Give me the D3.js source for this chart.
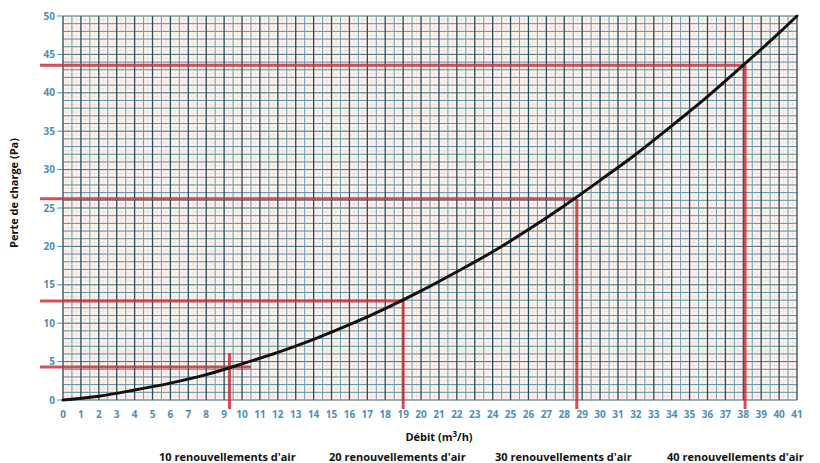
<!DOCTYPE html>
<html>
<head>
<meta charset="utf-8">
<script src="https://cdn.jsdelivr.net/npm/d3@7"></script>
<style>
  body { margin: 0; background: #fff; }
  svg { display: block; font-family: "Open Sans", sans-serif; }
  .tick-label { fill: #4a90b6; font-size: 10px; font-weight: 700; }
  .title { fill: #111; font-size: 11px; font-weight: 700; }
</style>
</head>
<body>
<svg width="820" height="463"></svg>
<script>
// Débit (m3/h) and perte de charge (Pa)
var debit = [0, 2, 4, 6, 8, 10, 12, 14, 16, 18, 20, 22, 24, 26, 28, 30, 32, 34, 36, 38, 40, 41];
var perte = [0, 0.5, 1.3, 2.2, 3.3, 4.7, 6.2, 7.9, 9.8, 11.9, 14.2, 16.7, 19.3, 22.2, 25.3, 28.6, 32.0, 35.7, 39.5, 43.6, 47.8, 50];

// Repères des renouvellements d'air
var renouvLabels = ["10 renouvellements d'air", "20 renouvellements d'air",
                    "30 renouvellements d'air", "40 renouvellements d'air"];
var renouvDebit = [9.3, 19, 28.7, 38.1];
var renouvPerte = [4.3, 12.9, 26.2, 43.6];
var renouvDepasse = [1.2, 0, 0, 0];   // le premier repère déborde en croix

var xTicks = d3.range(0, 42);
var yTicks = [0, 5, 10, 15, 20, 25, 30, 35, 40, 45, 50];

var margin = { left: 63, top: 16 }
  , innerW = 734
  , innerH = 384
  , svg = d3.select("svg")
  , g = svg.append("g").attr("transform", "translate(" + [margin.left, margin.top] + ")")
;

var x = d3.scaleLinear().domain([0, 41]).range([0, innerW]);
var y = d3.scaleLinear().domain([0, 50]).range([innerH, 0]);

// papier millimétré
g.append("rect")
    .attr("width", innerW).attr("height", innerH)
    .attr("fill", "#fdf4f0");

var grid = g.append("g");
// lignes roses fines
grid.selectAll(".pv").data(d3.range(0, 41, 0.25))
  .join("line")
    .attr("x1", function (d) { return x(d); }).attr("x2", function (d) { return x(d); })
    .attr("y1", 0).attr("y2", innerH)
    .attr("stroke", "#f4d6cf").attr("stroke-width", 0.6);
grid.selectAll(".ph").data(d3.range(0, 50, 0.5))
  .join("line")
    .attr("y1", function (d) { return y(d); }).attr("y2", function (d) { return y(d); })
    .attr("x1", 0).attr("x2", innerW)
    .attr("stroke", "#f4d6cf").attr("stroke-width", 0.6);
// lignes bleues
grid.selectAll(".bh").data(d3.range(0, 51, 1))
  .join("line")
    .attr("y1", function (d) { return y(d); }).attr("y2", function (d) { return y(d); })
    .attr("x1", 0).attr("x2", innerW)
    .attr("stroke", function (d) { return d % 5 === 0 ? "#3c6f80" : "#5a92a4"; })
    .attr("stroke-width", 1);
grid.selectAll(".bv").data(d3.range(0.5, 41, 1))
  .join("line")
    .attr("x1", function (d) { return x(d); }).attr("x2", function (d) { return x(d); })
    .attr("y1", 0).attr("y2", innerH)
    .attr("stroke", "#6c9fb0").attr("stroke-width", 1);
grid.selectAll(".mv").data(d3.range(0, 42, 1))
  .join("line")
    .attr("x1", function (d) { return x(d); }).attr("x2", function (d) { return x(d); })
    .attr("y1", 0).attr("y2", innerH)
    .attr("stroke", "#274f5c").attr("stroke-width", 1.3);

// axes
var yAxis = g.append("g");
yAxis.selectAll("line").data(yTicks)
  .join("line")
    .attr("x1", -6).attr("x2", 0)
    .attr("y1", function (d) { return y(d); }).attr("y2", function (d) { return y(d); })
    .attr("stroke", "#4a90b6");
yAxis.selectAll("text").data(yTicks)
  .join("text")
    .attr("class", "tick-label")
    .attr("x", -8)
    .attr("y", function (d) { return y(d); })
    .attr("dy", "0.35em")
    .attr("text-anchor", "end")
    .text(function (d) { return d; });

g.append("g").selectAll("text").data(xTicks)
  .join("text")
    .attr("class", "tick-label")
    .attr("x", function (d) { return x(d); })
    .attr("y", innerH + 18)
    .attr("text-anchor", "middle")
    .text(function (d) { return d; });

// repères rouges
var reperes = g.append("g").selectAll("g")
    .data(renouvDebit.map(function (d, i) {
        return { debit: d, perte: renouvPerte[i], depasse: renouvDepasse[i] };
      }))
  .join("g")
    .attr("stroke", "#c7313d").attr("stroke-opacity", 0.85).attr("stroke-width", 3);
reperes.append("line")
    .attr("x1", -23)
    .attr("x2", function (d) { return x(d.debit + d.depasse); })
    .attr("y1", function (d) { return y(d.perte); })
    .attr("y2", function (d) { return y(d.perte); });
reperes.append("line")
    .attr("x1", function (d) { return x(d.debit); })
    .attr("x2", function (d) { return x(d.debit); })
    .attr("y1", function (d) { return y(d.perte + d.depasse * 1.5); })
    .attr("y2", innerH + 9);

// courbe
var line = d3.line()
    .x(function (d, i) { return x(debit[i]); })
    .y(function (d) { return y(d); })
    .curve(d3.curveMonotoneX);
g.append("path")
    .datum(perte)
    .attr("d", line)
    .attr("fill", "none")
    .attr("stroke", "#111")
    .attr("stroke-width", 3)
    .attr("stroke-linecap", "round");

// titres
svg.append("text")
    .attr("class", "title")
    .attr("transform", "translate(18,193) rotate(-90)")
    .attr("text-anchor", "middle")
    .text("Perte de charge (Pa)");

var tx = svg.append("text")
    .attr("class", "title")
    .attr("x", 439).attr("y", 441)
    .attr("text-anchor", "middle");
tx.append("tspan").text("Débit (m");
tx.append("tspan").attr("dy", -4).attr("font-size", "8px").text("3");
tx.append("tspan").attr("dy", 4).text("/h)");

svg.append("g").selectAll("text").data(renouvLabels)
  .join("text")
    .attr("class", "title")
    .attr("x", function (d, i) { return [159, 329, 495, 667][i]; })
    .attr("y", 461)
    .text(function (d) { return d; });
</script>
</body>
</html>
